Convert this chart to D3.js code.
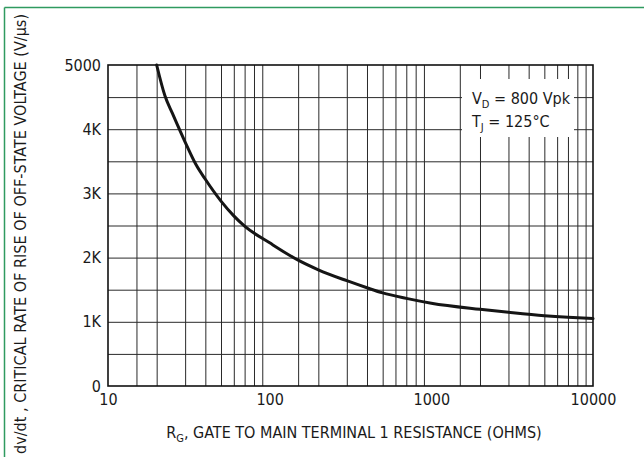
<!DOCTYPE html>
<html>
<head>
<meta charset="utf-8">
<script src="https://cdn.jsdelivr.net/npm/d3@7/dist/d3.min.js"></script>
<style>
  html, body { margin: 0; padding: 0; background: #fff; }
  svg { display: block; }
  text { font-family: "Liberation Sans Narrow", "DejaVu Sans Condensed", "Arial Narrow", sans-serif; fill: #1a1a1a; }
</style>
</head>
<body>
<script>
// ---- data ----
const resistance = [20, 22.5, 25, 30, 35, 40, 50, 60, 70, 100, 150, 200, 300, 400, 500, 700, 1000, 2000, 3000, 5000, 7000, 10000];
const dvdt       = [5000, 4520, 4250, 3800, 3450, 3220, 2880, 2650, 2490, 2230, 1960, 1810, 1640, 1530, 1450, 1365, 1290, 1195, 1148, 1095, 1070, 1050];
const xTickValues = [10, 100, 1000, 10000];
const xTickLabels = ["10", "100", "1000", "10000"];
const yTickValues = [0, 1000, 2000, 3000, 4000, 5000];
const yTickLabels = ["0", "1K", "2K", "3K", "4K", "5000"];
const yGridValues = [500, 1000, 1500, 2000, 2500, 3000, 3500, 4000, 4500];
const decades = [10, 100, 1000];
const mantissas = [1.5, 2, 3, 4, 5, 6, 7, 8, 9];

const W = 644, H = 457;
const m = { left: 108, right: 593, top: 65, bottom: 386 };

const svg = d3.select("body").append("svg").attr("width", W).attr("height", H);

// green frame
svg.append("line").attr("x1", 4.5).attr("y1", 7.5).attr("x2", W).attr("y2", 7.5)
  .attr("stroke", "#2f9a5f").attr("stroke-width", 1.5);
svg.append("line").attr("x1", 4.5).attr("y1", 7.5).attr("x2", 4.5).attr("y2", H)
  .attr("stroke", "#2f9a5f").attr("stroke-width", 1.5);

const x = d3.scaleLog().domain([10, 10000]).range([m.left, m.right]);
const y = d3.scaleLinear().domain([0, 5000]).range([m.bottom, m.top]);

const xGrid = [];
decades.forEach(d => mantissas.forEach(k => xGrid.push(d * k)));

// vertical grid
svg.append("g").attr("transform", `translate(0,${m.bottom})`)
  .call(d3.axisBottom(x).tickValues(xGrid).tickSize(-(m.bottom - m.top)).tickFormat(""))
  .call(g => g.select(".domain").remove())
  .call(g => g.selectAll("line").attr("stroke", "#2a2a2a").attr("stroke-width", 1));

// horizontal grid
svg.append("g").attr("transform", `translate(${m.left},0)`)
  .call(d3.axisLeft(y).tickValues(yGridValues).tickSize(-(m.right - m.left)).tickFormat(""))
  .call(g => g.select(".domain").remove())
  .call(g => g.selectAll("line").attr("stroke", "#2a2a2a").attr("stroke-width", 1));

// annotation background (clears grid)
svg.append("rect").attr("x", 462).attr("y", 79).attr("width", 112).attr("height", 58).attr("fill", "#fff");

// frame
svg.append("rect").attr("x", m.left).attr("y", m.top)
  .attr("width", m.right - m.left).attr("height", m.bottom - m.top)
  .attr("fill", "none").attr("stroke", "#111").attr("stroke-width", 1.6);

// x tick labels
const xAxis = svg.append("g").attr("transform", `translate(0,${m.bottom})`)
  .call(d3.axisBottom(x).tickValues(xTickValues).tickSize(0).tickPadding(0)
    .tickFormat((d, i) => xTickLabels[i]));
xAxis.select(".domain").remove();
xAxis.selectAll("text").attr("dy", null).attr("y", 19).attr("font-size", 16).style("font-family", null);

// y tick labels
const yAxis = svg.append("g").attr("transform", `translate(${m.left},0)`)
  .call(d3.axisLeft(y).tickValues(yTickValues).tickSize(0).tickPadding(7)
    .tickFormat((d, i) => yTickLabels[i]));
yAxis.select(".domain").remove();
yAxis.selectAll("text").attr("font-size", 16).style("font-family", null);

// curve
const line = d3.line().x((d, i) => x(resistance[i])).y(d => y(d)).curve(d3.curveMonotoneX);
svg.append("path").datum(dvdt).attr("d", line)
  .attr("fill", "none").attr("stroke", "#151515").attr("stroke-width", 3).attr("stroke-linecap", "round");

// annotation text
const t1 = svg.append("text").attr("x", 472).attr("y", 104).attr("font-size", 16);
t1.append("tspan").text("V");
t1.append("tspan").attr("font-size", 11).attr("dy", 4).text("D");
t1.append("tspan").attr("dy", -4).text(" = 800 Vpk");
const t2 = svg.append("text").attr("x", 472).attr("y", 127).attr("font-size", 16);
t2.append("tspan").text("T");
t2.append("tspan").attr("font-size", 11).attr("dy", 4).text("J");
t2.append("tspan").attr("dy", -4).text(" = 125°C");

// x title
const xt = svg.append("text").attr("x", 354).attr("y", 438).attr("text-anchor", "middle").attr("font-size", 16);
xt.append("tspan").text("R");
xt.append("tspan").attr("font-size", 11).attr("dy", 4).text("G");
xt.append("tspan").attr("dy", -4).text(", GATE TO MAIN TERMINAL 1 RESISTANCE (OHMS)");

// y title
svg.append("text")
  .attr("transform", "translate(26,234) rotate(-90)")
  .attr("text-anchor", "middle").attr("font-size", 16)
  .attr("textLength", 440).attr("lengthAdjust", "spacingAndGlyphs")
  .text("dv/dt , CRITICAL RATE OF RISE OF OFF-STATE VOLTAGE  (V/\u00B5s)");
</script>
</body>
</html>
